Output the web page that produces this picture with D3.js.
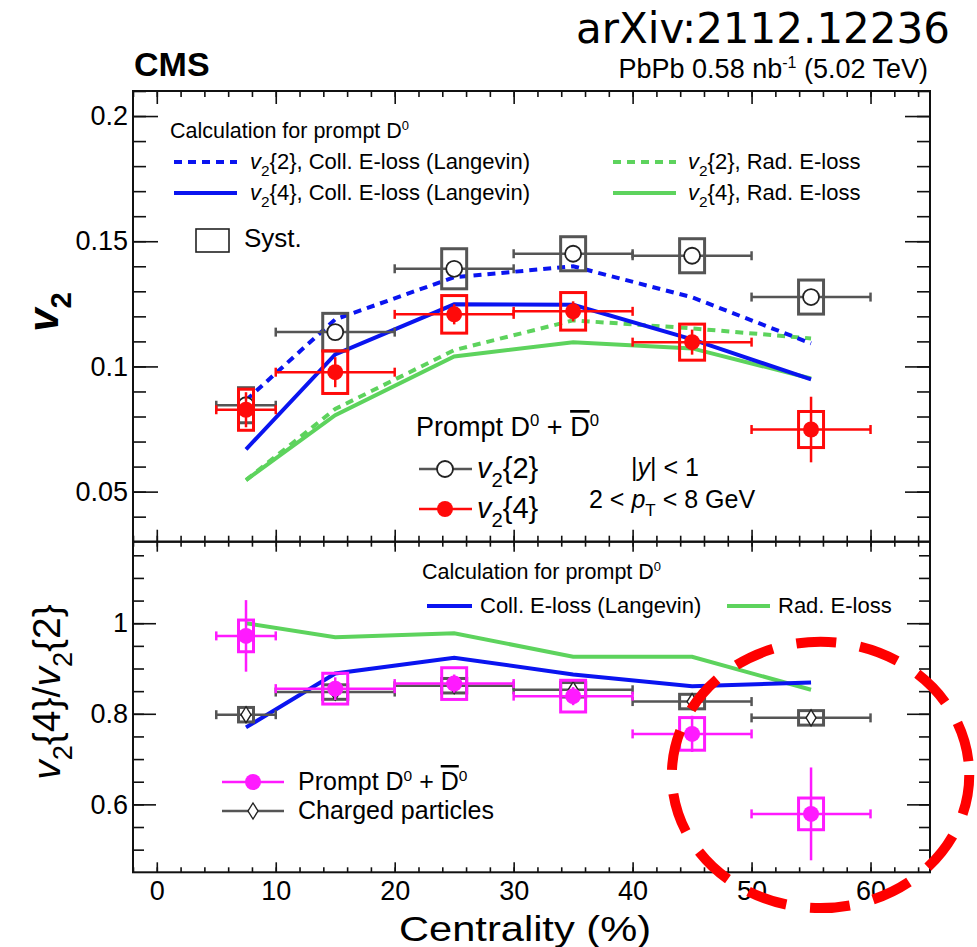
<!DOCTYPE html>
<html>
<head>
<meta charset="utf-8">
<script src="https://cdn.jsdelivr.net/npm/d3@7"></script>
<style>
  body { margin: 0; background: #fff; }
  svg { display: block; font-family: "Liberation Sans", Arial, sans-serif; }
</style>
</head>
<body>
<div id="chart"></div>
<script>
// centrality bins (%)
var centrality = [7.5, 15, 25, 35, 45, 55];
var binLo = [5, 10, 20, 30, 40, 50];
var binHi = [10, 20, 30, 40, 50, 60];

// prompt D0 v2{2} and v2{4}
var v2two = [0.0845, 0.1137, 0.139, 0.145, 0.1442, 0.1277];
var v2twoStat = [0.002, 0.002, 0.002, 0.002, 0.002, 0.002];
var v2twoSyst = [0.007, 0.0075, 0.008, 0.0068, 0.0068, 0.0068];
var v2four = [0.0827, 0.0977, 0.1208, 0.122, 0.1097, 0.0748];
var v2fourStat = [0.007, 0.006, 0.004, 0.004, 0.005, 0.0131];
var v2fourSyst = [0.0082, 0.0085, 0.0075, 0.0075, 0.0072, 0.0072];

// model calculations
var collV2two = [0.0865, 0.1188, 0.1356, 0.140, 0.1276, 0.1092];
var collV2four = [0.0669, 0.1048, 0.1248, 0.1246, 0.1108, 0.0948];
var radV2two = [0.0546, 0.083, 0.1065, 0.1184, 0.1152, 0.1112];
var radV2four = [0.0546, 0.0805, 0.104, 0.1097, 0.1072, 0.0952];

// ratio v2{4}/v2{2}
var ratioD = [0.972, 0.8555, 0.8667, 0.839, 0.7556, 0.579];
var ratioDStat = [0.079, 0.025, 0.02, 0.02, 0.04, 0.1025];
var ratioDSyst = [0.035, 0.034, 0.035, 0.035, 0.036, 0.035];
var ratioCh = [0.798, 0.848, 0.862, 0.853, 0.827, 0.791];
var ratioChStat = [0.004, 0.004, 0.004, 0.004, 0.004, 0.004];
var ratioChSyst = [0.016, 0.016, 0.016, 0.016, 0.016, 0.016];
var collRatio = [0.770, 0.889, 0.9236, 0.887, 0.861, 0.869];
var radRatio = [1.0, 0.969, 0.978, 0.926, 0.926, 0.853];

// ticks
var xMajor = [0, 10, 20, 30, 40, 50, 60];
var topMajor = [0.05, 0.1, 0.15, 0.2];
var botMajor = [0.6, 0.8, 1];

var W = 977, H = 947;
var left = 133, right = 930, top0 = 91, mid = 541.7, bottom = 872.3;

var svg = d3.select("#chart").append("svg")
  .attr("width", W)
  .attr("height", H);

var x = d3.scaleLinear().domain([-2, 65]).range([left, right]);
var yTop = d3.scaleLinear().domain([0.03, 0.21]).range([mid, top0]);
var yBot = d3.scaleLinear().domain([0.45, 1.18]).range([bottom, mid]);

var BLUE = "#0a14f0", GREEN = "#5dd35d", RED = "#ff0a0a", MAG = "#ff1aff", GRAY = "#555555";

function range(a, b, s) {
  var out = [];
  for (var v = a; v <= b + 1e-9; v += s) out.push(+v.toFixed(4));
  return out;
}

// ---------- axes ----------
function axisPair(axisFn, scale, major, minor, majLen, minLen, pos, fmt, pad) {
  var g = svg.append("g").attr("transform", pos);
  g.call(axisFn(scale).tickValues(minor).tickSize(minLen).tickSizeOuter(0).tickFormat(""));
  var g2 = svg.append("g").attr("transform", pos);
  g2.call(axisFn(scale).tickValues(major).tickSize(majLen).tickSizeOuter(0)
    .tickFormat(fmt || "").tickPadding(pad || 6));
  [g, g2].forEach(function(a) {
    a.select(".domain").remove();
    a.selectAll("line").attr("stroke", "#111").attr("stroke-width", 1.6);
    a.selectAll("text").attr("fill", "#000").attr("font-size", 27)
      .attr("font-family", "Liberation Sans, Arial, sans-serif");
  });
}

var fmtY = function(d) { return String(d); };

// upper panel
axisPair(d3.axisLeft, yTop, topMajor, range(0.04, 0.21, 0.01), -25, -13, "translate(" + left + ",0)", fmtY, 5);
axisPair(d3.axisRight, yTop, topMajor, range(0.04, 0.21, 0.01), -25, -13, "translate(" + right + ",0)");
axisPair(d3.axisTop, x, xMajor, range(-2, 64, 2), -13, -6, "translate(0," + top0 + ")");
axisPair(d3.axisBottom, x, xMajor, range(-2, 64, 2), -12, -6, "translate(0," + mid + ")");

// lower panel
axisPair(d3.axisLeft, yBot, botMajor, range(0.5, 1.15, 0.05), -23, -11, "translate(" + left + ",0)", fmtY, 5);
axisPair(d3.axisRight, yBot, botMajor, range(0.5, 1.15, 0.05), -23, -11, "translate(" + right + ",0)");
axisPair(d3.axisTop, x, xMajor, range(-2, 64, 2), -10, -5, "translate(0," + mid + ")");
axisPair(d3.axisBottom, x, xMajor, range(-2, 64, 2), -10, -5, "translate(0," + bottom + ")", fmtY, 9);

// frames
svg.append("rect").attr("x", left).attr("y", top0).attr("width", right - left).attr("height", mid - top0)
  .attr("fill", "none").attr("stroke", "#111").attr("stroke-width", 2);
svg.append("rect").attr("x", left).attr("y", mid).attr("width", right - left).attr("height", bottom - mid)
  .attr("fill", "none").attr("stroke", "#111").attr("stroke-width", 2);

// ---------- helpers ----------
var line = function(ys) {
  return d3.line().x(function(d, i) { return x(centrality[i]); }).y(function(d) { return ys(d); });
};

function drawModel(vals, ys, color, dashed) {
  svg.append("path").datum(vals)
    .attr("d", line(ys))
    .attr("fill", "none")
    .attr("stroke", color)
    .attr("stroke-width", 4)
    .attr("stroke-dasharray", dashed ? "8,6" : null);
}

// half width of a syst box, in centrality units
function boxHalf(d) { return 0.084 * (d.hi - d.lo) + 0.21; }

function drawPoints(vals, stat, syst, ys, color, marker) {
  var g = svg.append("g");
  var pts = vals.map(function(v, i) {
    return { c: centrality[i], lo: binLo[i], hi: binHi[i], v: v, st: stat[i], sy: syst[i] };
  });
  // syst boxes
  g.selectAll("rect.sys").data(pts).enter().append("rect")
    .attr("x", function(d) { return x(d.c - boxHalf(d)); })
    .attr("width", function(d) { return x(d.c + boxHalf(d)) - x(d.c - boxHalf(d)); })
    .attr("y", function(d) { return ys(d.v + d.sy); })
    .attr("height", function(d) { return ys(d.v - d.sy) - ys(d.v + d.sy); })
    .attr("fill", "none").attr("stroke", color).attr("stroke-width", 3);
  // horizontal bars
  g.selectAll("line.h").data(pts).enter().append("line")
    .attr("x1", function(d) { return x(d.lo); }).attr("x2", function(d) { return x(d.hi); })
    .attr("y1", function(d) { return ys(d.v); }).attr("y2", function(d) { return ys(d.v); })
    .attr("stroke", color).attr("stroke-width", 2.5);
  g.selectAll("line.capl").data(pts).enter().append("line")
    .attr("x1", function(d) { return x(d.lo); }).attr("x2", function(d) { return x(d.lo); })
    .attr("y1", function(d) { return ys(d.v) - 4.5; }).attr("y2", function(d) { return ys(d.v) + 4.5; })
    .attr("stroke", color).attr("stroke-width", 2.5);
  g.selectAll("line.capr").data(pts).enter().append("line")
    .attr("x1", function(d) { return x(d.hi); }).attr("x2", function(d) { return x(d.hi); })
    .attr("y1", function(d) { return ys(d.v) - 4.5; }).attr("y2", function(d) { return ys(d.v) + 4.5; })
    .attr("stroke", color).attr("stroke-width", 2.5);
  // vertical stat bars
  g.selectAll("line.v").data(pts).enter().append("line")
    .attr("x1", function(d) { return x(d.c); }).attr("x2", function(d) { return x(d.c); })
    .attr("y1", function(d) { return ys(d.v + d.st); }).attr("y2", function(d) { return ys(d.v - d.st); })
    .attr("stroke", color).attr("stroke-width", 2.5);
  pts.forEach(function(d) { drawMarker(g, x(d.c), ys(d.v), color, marker); });
}

function drawMarker(g, cx, cy, color, marker) {
  if (marker === "open") {
    g.append("circle").attr("cx", cx).attr("cy", cy).attr("r", 8)
      .attr("fill", "#fff").attr("stroke", "#222").attr("stroke-width", 1.8);
  } else if (marker === "diamond") {
    g.append("path").attr("d", "M" + cx + "," + (cy - 8) + "L" + (cx + 5) + "," + cy + "L" + cx + "," + (cy + 8) + "L" + (cx - 5) + "," + cy + "Z")
      .attr("fill", "#fff").attr("stroke", "#222").attr("stroke-width", 1.4);
  } else {
    g.append("circle").attr("cx", cx).attr("cy", cy).attr("r", 8).attr("fill", color);
  }
}

// ---------- upper panel data ----------
drawModel(radV2two, yTop, GREEN, true);
drawModel(radV2four, yTop, GREEN, false);
drawModel(collV2two, yTop, BLUE, true);
drawModel(collV2four, yTop, BLUE, false);
drawPoints(v2two, v2twoStat, v2twoSyst, yTop, GRAY, "open");
drawPoints(v2four, v2fourStat, v2fourSyst, yTop, RED, "filled");

// ---------- lower panel data ----------
drawModel(radRatio, yBot, GREEN, false);
drawModel(collRatio, yBot, BLUE, false);
drawPoints(ratioCh, ratioChStat, ratioChSyst, yBot, GRAY, "diamond");
drawPoints(ratioD, ratioDStat, ratioDSyst, yBot, MAG, "filled");

// ---------- text ----------
function txt(xp, yp, size, anchor) {
  return svg.append("text").attr("x", xp).attr("y", yp).attr("font-size", size)
    .attr("text-anchor", anchor || "start").attr("fill", "#000");
}
function v2label(t, n, rest, size) {
  t.append("tspan").attr("font-style", "italic").text("v");
  t.append("tspan").attr("dy", size * 0.3).attr("font-size", size * 0.7).text("2");
  t.append("tspan").attr("dy", -size * 0.3).text(n + (rest || ""));
}
function dd(t, size) {
  t.append("tspan").text("D");
  t.append("tspan").attr("dy", -size * 0.38).attr("font-size", size * 0.62).text("0");
  t.append("tspan").attr("dy", size * 0.38).text(" + ");
  t.append("tspan").attr("style", "text-decoration: overline").text("D");
  t.append("tspan").attr("dy", -size * 0.38).attr("font-size", size * 0.62).text("0");
}

txt(right + 20, 43, 42, "end").attr("font-family", "DejaVu Sans").text("arXiv:2112.12236");
txt(134, 76, 34).attr("font-weight", "bold").text("CMS");
var lumi = txt(928, 78, 27, "end");
lumi.append("tspan").text("PbPb 0.58 nb");
lumi.append("tspan").attr("dy", -10).attr("font-size", 16).text("-1");
lumi.append("tspan").attr("dy", 10).text(" (5.02 TeV)");

// upper legend
var t1 = txt(170, 138, 21.5);
t1.append("tspan").text("Calculation for prompt D");
t1.append("tspan").attr("dy", -8).attr("font-size", 13).text("0");

var legRows = [
  { xl: 174, xt: 250, y: 162, color: BLUE, dash: true, n: "{2}", rest: ", Coll. E-loss (Langevin)" },
  { xl: 174, xt: 250, y: 193, color: BLUE, dash: false, n: "{4}", rest: ", Coll. E-loss (Langevin)" },
  { xl: 613, xt: 688, y: 162, color: GREEN, dash: true, n: "{2}", rest: ", Rad. E-loss" },
  { xl: 613, xt: 688, y: 193, color: GREEN, dash: false, n: "{4}", rest: ", Rad. E-loss" }
];
legRows.forEach(function(r) {
  svg.append("line").attr("x1", r.xl).attr("x2", r.xl + 63).attr("y1", r.y).attr("y2", r.y)
    .attr("stroke", r.color).attr("stroke-width", 4).attr("stroke-dasharray", r.dash ? "8,6" : null);
  v2label(txt(r.xt, r.y + 7, 22), r.n, r.rest, 22);
});

svg.append("rect").attr("x", 196).attr("y", 229).attr("width", 33).attr("height", 23)
  .attr("fill", "none").attr("stroke", "#222").attr("stroke-width", 1.6);
txt(244, 247, 26).text("Syst.");

var pd = txt(416, 436, 27);
pd.append("tspan").text("Prompt ");
dd(pd, 27);

svg.append("line").attr("x1", 419).attr("x2", 472).attr("y1", 469).attr("y2", 469)
  .attr("stroke", GRAY).attr("stroke-width", 2.5);
drawMarker(svg, 445, 469, GRAY, "open");
v2label(txt(477, 478, 29), "{2}", "", 29);
svg.append("line").attr("x1", 419).attr("x2", 472).attr("y1", 509).attr("y2", 509)
  .attr("stroke", RED).attr("stroke-width", 2.5);
drawMarker(svg, 445, 509, RED, "filled");
v2label(txt(477, 518, 29), "{4}", "", 29);

var ycut = txt(631, 476, 25);
ycut.append("tspan").text("|");
ycut.append("tspan").attr("font-style", "italic").text("y");
ycut.append("tspan").text("| < 1");
var pt = txt(589, 508, 25);
pt.append("tspan").text("2 < ");
pt.append("tspan").attr("font-style", "italic").text("p");
pt.append("tspan").attr("dy", 8).attr("font-size", 17).text("T");
pt.append("tspan").attr("dy", -8).text(" < 8 GeV");

// lower legend
var t2 = txt(422, 579, 21.5);
t2.append("tspan").text("Calculation for prompt D");
t2.append("tspan").attr("dy", -8).attr("font-size", 13).text("0");
svg.append("line").attr("x1", 427).attr("x2", 472).attr("y1", 606).attr("y2", 606)
  .attr("stroke", BLUE).attr("stroke-width", 4);
txt(480, 613, 22).text("Coll. E-loss (Langevin)");
svg.append("line").attr("x1", 727).attr("x2", 770).attr("y1", 606).attr("y2", 606)
  .attr("stroke", GREEN).attr("stroke-width", 4);
txt(778, 613, 22).text("Rad. E-loss");

svg.append("line").attr("x1", 222).attr("x2", 284).attr("y1", 782).attr("y2", 782)
  .attr("stroke", MAG).attr("stroke-width", 2.5);
drawMarker(svg, 253, 782, MAG, "filled");
var pd2 = txt(298, 790, 25);
pd2.append("tspan").text("Prompt ");
dd(pd2, 25);
svg.append("line").attr("x1", 222).attr("x2", 284).attr("y1", 811).attr("y2", 811)
  .attr("stroke", GRAY).attr("stroke-width", 2.5);
drawMarker(svg, 253, 811, GRAY, "diamond");
txt(298, 819, 25).text("Charged particles");

// axis titles
txt(525, 941, 35, "middle")
  .attr("textLength", 252).attr("lengthAdjust", "spacingAndGlyphs")
  .text("Centrality (%)");
var yl1 = svg.append("text").attr("transform", "translate(58,312) rotate(-90)")
  .attr("text-anchor", "middle").attr("font-size", 42).attr("font-weight", "bold");
v2label(yl1, "", "", 42);
var yl2 = svg.append("text").attr("transform", "translate(60,692) rotate(-90)")
  .attr("text-anchor", "middle").attr("font-size", 39);
v2label(yl2, "{4}/", "", 39);
yl2.append("tspan").attr("font-style", "italic").text("v");
yl2.append("tspan").attr("dy", 39 * 0.3).attr("font-size", 39 * 0.7).text("2");
yl2.append("tspan").attr("dy", -39 * 0.3).text("{2}");

// annotation ellipse around the peripheral bin
svg.append("ellipse")
  .attr("cx", x(55.8)).attr("cy", yBot(0.665))
  .attr("rx", x(55.8 + 12.5) - x(55.8)).attr("ry", yBot(0.665) - yBot(0.665 + 0.294))
  .attr("fill", "none").attr("stroke", "#ff0000").attr("stroke-width", 10)
  .attr("stroke-dasharray", "40,24");
</script>
</body>
</html>
